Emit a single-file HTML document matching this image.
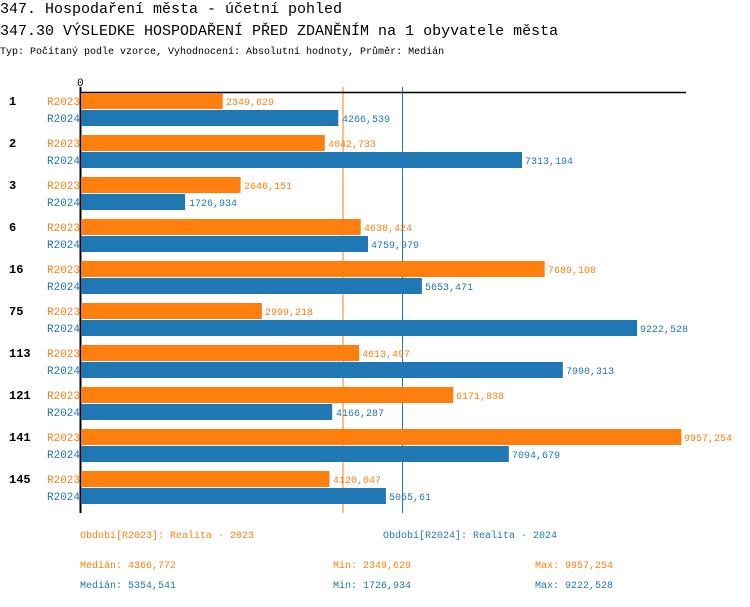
<!DOCTYPE html>
<html><head><meta charset="utf-8"><style>
body{margin:0;background:#fff;width:750px;height:602px;overflow:hidden}
text{font-family:"Liberation Mono",monospace}
.o{fill:#ff7f0e}.b{fill:#1f77b4}
.l{font-size:11px}.v{font-size:10px}.f{font-size:10px}
.g{font-size:12px;font-weight:bold;fill:#000;font-family:"Liberation Mono",monospace}
</style></head><body>
<svg width="750" height="602" xmlns="http://www.w3.org/2000/svg">
<text x="0" y="13" font-size="15">347. Hospodaření města - účetní pohled</text>
<text x="0" y="35" font-size="15">347.30 VÝSLEDKE HOSPODAŘENÍ PŘED ZDANĚNÍM na 1 obyvatele města</text>
<text x="0" y="54" font-size="10">Typ: Počítaný podle vzorce, Vyhodnocení: Absolutní hodnoty, Průměr: Medián</text>
<text x="77" y="86" font-size="11">0</text>
<line x1="343" y1="87" x2="343" y2="513" stroke="#ff7f0e" stroke-width="1"/>
<line x1="402.5" y1="87" x2="402.5" y2="513" stroke="#1f77b4" stroke-width="1"/>
<line x1="80" y1="92.5" x2="686" y2="92.5" stroke="#000" stroke-width="1.5"/>
<line x1="80.5" y1="87" x2="80.5" y2="513" stroke="#000" stroke-width="2"/>

<g>
<text class="g" x="9" y="105">1</text>
<rect class="o" x="81" y="93" width="141.7" height="16"/><text class="o l" x="47" y="105">R2023</text><text class="o v" x="226" y="105">2349,629</text>
<rect class="b" x="81" y="110" width="257.3" height="16"/><text class="b l" x="47" y="122">R2024</text><text class="b v" x="342" y="122">4266,539</text>

<text class="g" x="9" y="147">2</text>
<rect class="o" x="81" y="135" width="243.8" height="16"/><text class="o l" x="47" y="147">R2023</text><text class="o v" x="328" y="147">4042,733</text>
<rect class="b" x="81" y="152" width="441" height="16"/><text class="b l" x="47" y="164">R2024</text><text class="b v" x="525" y="164">7313,194</text>

<text class="g" x="9" y="189">3</text>
<rect class="o" x="81" y="177" width="159.6" height="16"/><text class="o l" x="47" y="189">R2023</text><text class="o v" x="244" y="189">2646,151</text>
<rect class="b" x="81" y="194" width="104.1" height="16"/><text class="b l" x="47" y="206">R2024</text><text class="b v" x="189" y="206">1726,934</text>

<text class="g" x="9" y="231">6</text>
<rect class="o" x="81" y="219" width="279.7" height="16"/><text class="o l" x="47" y="231">R2023</text><text class="o v" x="364" y="231">4638,424</text>
<rect class="b" x="81" y="236" width="287" height="16"/><text class="b l" x="47" y="248">R2024</text><text class="b v" x="371" y="248">4759,979</text>

<text class="g" x="9" y="273">16</text>
<rect class="o" x="81" y="261" width="463.7" height="16"/><text class="o l" x="47" y="273">R2023</text><text class="o v" x="548" y="273">7689,108</text>
<rect class="b" x="81" y="278" width="340.9" height="16"/><text class="b l" x="47" y="290">R2024</text><text class="b v" x="425" y="290">5653,471</text>

<text class="g" x="9" y="315">75</text>
<rect class="o" x="81" y="303" width="180.9" height="16"/><text class="o l" x="47" y="315">R2023</text><text class="o v" x="265" y="315">2999,218</text>
<rect class="b" x="81" y="320" width="556.1" height="16"/><text class="b l" x="47" y="332">R2024</text><text class="b v" x="640" y="332">9222,528</text>

<text class="g" x="9" y="357">113</text>
<rect class="o" x="81" y="345" width="278.2" height="16"/><text class="o l" x="47" y="357">R2023</text><text class="o v" x="362" y="357">4613,497</text>
<rect class="b" x="81" y="362" width="481.8" height="16"/><text class="b l" x="47" y="374">R2024</text><text class="b v" x="566" y="374">7990,313</text>

<text class="g" x="9" y="399">121</text>
<rect class="o" x="81" y="387" width="372.2" height="16"/><text class="o l" x="47" y="399">R2023</text><text class="o v" x="456" y="399">6171,838</text>
<rect class="b" x="81" y="404" width="251.2" height="16"/><text class="b l" x="47" y="416">R2024</text><text class="b v" x="336" y="416">4166,287</text>

<text class="g" x="9" y="441">141</text>
<rect class="o" x="81" y="429" width="600.4" height="16"/><text class="o l" x="47" y="441">R2023</text><text class="o v" x="684" y="441">9957,254</text>
<rect class="b" x="81" y="446" width="427.8" height="16"/><text class="b l" x="47" y="458">R2024</text><text class="b v" x="512" y="458">7094,679</text>

<text class="g" x="9" y="483">145</text>
<rect class="o" x="81" y="471" width="248.4" height="16"/><text class="o l" x="47" y="483">R2023</text><text class="o v" x="333" y="483">4120,047</text>
<rect class="b" x="81" y="488" width="304.9" height="16"/><text class="b l" x="47" y="500">R2024</text><text class="b v" x="389" y="500">5055,61</text>
</g>

<text class="o f" x="80" y="538">Období[R2023]: Realita - 2023</text>
<text class="b f" x="383" y="538">Období[R2024]: Realita - 2024</text>
<text class="o f" x="80" y="568">Medián: 4366,772</text>
<text class="o f" x="333" y="568">Min: 2349,629</text>
<text class="o f" x="535" y="568">Max: 9957,254</text>
<text class="b f" x="80" y="588">Medián: 5354,541</text>
<text class="b f" x="333" y="588">Min: 1726,934</text>
<text class="b f" x="535" y="588">Max: 9222,528</text>
</svg>
</body></html>
